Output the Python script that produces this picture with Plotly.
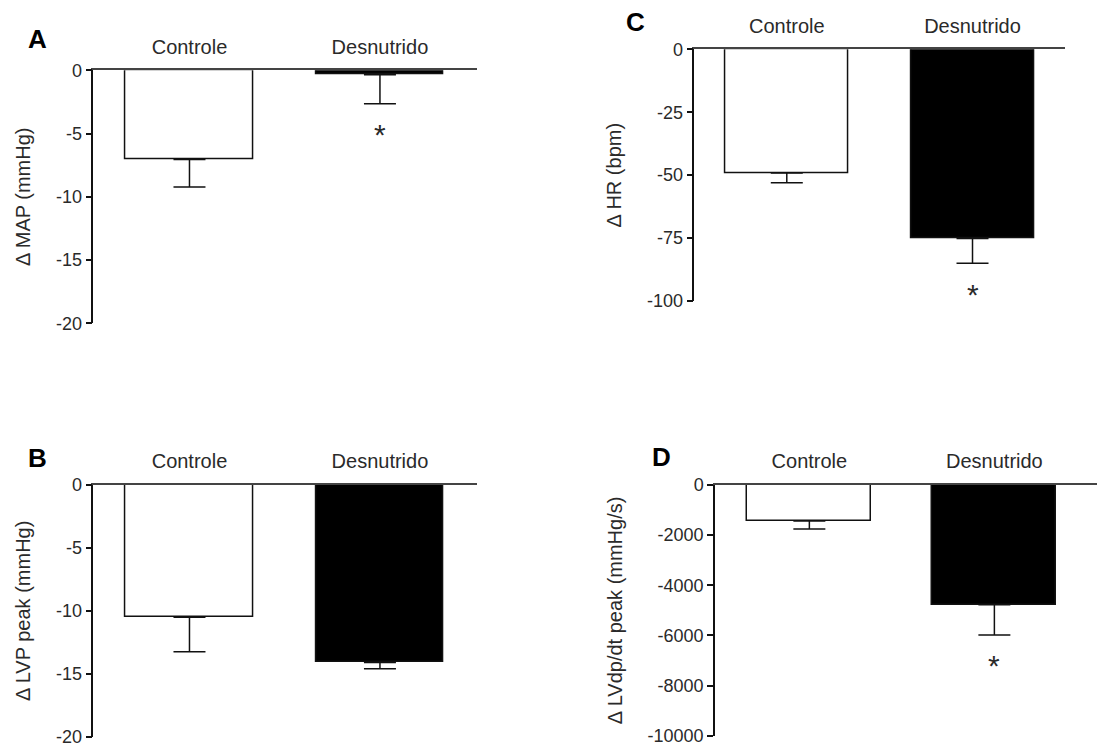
import plotly.graph_objects as go

W, H = 1097, 746

groups = ["Controle", "Desnutrido"]

# Panel A: change in mean arterial pressure
map_mean = [-7.05, -0.35]
map_sem = [2.17, 2.29]
map_ticks = [0, -5, -10, -15, -20]

# Panel B: change in peak LV pressure
lvp_mean = [-10.5, -14.1]
lvp_sem = [2.75, 0.5]
lvp_ticks = [0, -5, -10, -15, -20]

# Panel C: change in heart rate
hr_mean = [-49.1, -75.2]
hr_sem = [3.9, 9.8]
hr_ticks = [0, -25, -50, -75, -100]

# Panel D: change in peak LV dP/dt
dpdt_mean = [-1440, -4780]
dpdt_sem = [310, 1200]
dpdt_ticks = [0, -2000, -4000, -6000, -8000, -10000]

# groups flagged as significant (*)
sig_map = [False, True]
sig_lvp = [False, False]
sig_hr = [False, True]
sig_dpdt = [False, True]

FONT = "Arial, Liberation Sans, sans-serif"
TXT = "#2a2a2a"
LINE = "#111111"


def px_x(p):
    return p / W


def px_y(p):
    return 1 - p / H


panels = [
    # letter, means, sems, ticks, sig, title, x0,x1 (px), ytop,ybot (px), xrange, barwidth, letter pos
    ("A", map_mean, map_sem, map_ticks, sig_map, "\u0394 MAP (mmHg)",
     93.3, 476.7, 70.3, 323.3, [-0.505, 1.508], 0.67, (37.7, 39.5)),
    ("C", hr_mean, hr_sem, hr_ticks, sig_hr, "\u0394 HR (bpm)",
     694.3, 1065, 49.3, 301, [-0.498, 1.498], 0.66, (635.7, 21.7)),
    ("B", lvp_mean, lvp_sem, lvp_ticks, sig_lvp, "\u0394 LVP peak (mmHg)",
     93.3, 476.7, 485, 736.7, [-0.505, 1.508], 0.67, (37.7, 458)),
    ("D", dpdt_mean, dpdt_sem, dpdt_ticks, sig_dpdt, "\u0394 LVdp/dt peak (mmHg/s)",
     715, 1096.7, 485, 735.7, [-0.51, 1.553], 0.67, (661.7, 457)),
]

fig = go.Figure()
annotations = []
layout = {}

for i, (letter, means, sems, ticks, sig, title, x0, x1, yt, yb, xr, bw, lpos) in enumerate(panels):
    n = "" if i == 0 else str(i + 1)
    xa, ya = "x" + n, "y" + n
    fig.add_trace(go.Bar(
        x=groups, y=means,
        width=bw,
        marker=dict(color=["white", "black"], line=dict(color=LINE, width=1.5)),
        error_y=dict(type="data", symmetric=False, array=[0, 0], arrayminus=sems,
                     color=LINE, thickness=1.5, width=16),
        xaxis=xa, yaxis=ya, showlegend=False, hoverinfo="skip",
    ))
    layout["xaxis" + n] = dict(
        domain=[px_x(x0), px_x(x1)], anchor=ya, side="top",
        range=xr, showline=True, linecolor="#444", linewidth=1.5,
        ticks="", showgrid=False, zeroline=False, automargin=False,
        tickfont=dict(family=FONT, size=20, color=TXT),
        ticklabelstandoff=7,
    )
    span = -ticks[-1]
    layout["yaxis" + n] = dict(
        domain=[px_y(yb), px_y(yt)], anchor=xa,
        range=[ticks[-1] - span * 1e-4, span * 1e-4], tickvals=ticks,
        ticktext=["%d" % t for t in ticks],
        showline=True, linecolor=LINE, linewidth=1.5,
        ticks="outside", ticklen=6, tickwidth=1.5, tickcolor=LINE,
        showgrid=False, zeroline=False, automargin=False,
        ticklabeloverflow="allow",
        tickfont=dict(family=FONT, size=18, color=TXT),
        title=dict(text=title, font=dict(family=FONT, size=20, color=TXT), standoff=20),
    )
    for g, m, s, flag in zip(groups, means, sems, sig):
        if flag:
            annotations.append(dict(
                x=g, y=m - s, xref=xa, yref=ya, text="*", showarrow=False,
                yanchor="middle", yshift=-31,
                font=dict(family=FONT, size=30, color=TXT),
            ))
    annotations.append(dict(
        x=px_x(lpos[0]), y=px_y(lpos[1]), xref="paper", yref="paper",
        text="<b>%s</b>" % letter, showarrow=False,
        xanchor="center", yanchor="middle",
        font=dict(family=FONT, size=26, color="black"),
    ))

fig.update_layout(
    width=W, height=H,
    margin=dict(l=0, r=0, t=0, b=0),
    paper_bgcolor="white", plot_bgcolor="white",
    annotations=annotations,
    bargap=0,
    **layout,
)

fig.write_html("out.html")
